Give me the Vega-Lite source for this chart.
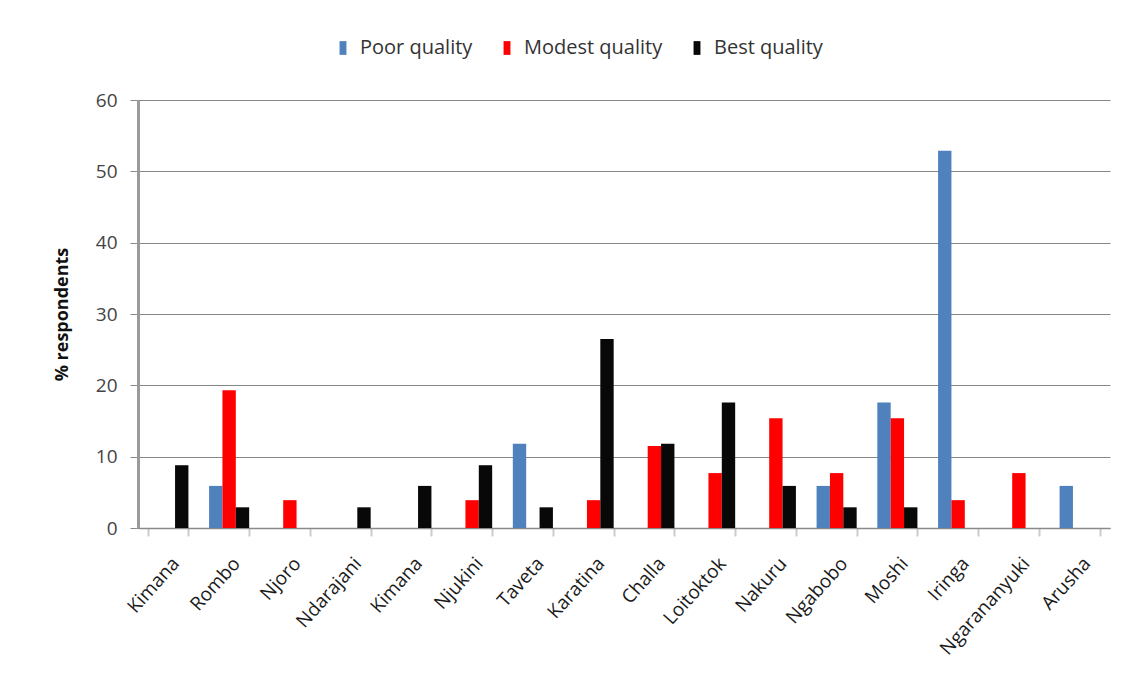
{
  "$schema": "https://vega.github.io/schema/vega-lite/v6.json",
  "width": 972,
  "height": 428,
  "autosize": {"type": "none"},
  "padding": {"left": 138, "top": 100, "right": 28, "bottom": 158},
  "background": "white",
  "config": {
    "view": {"stroke": null},
    "font": "Open Sans"
  },
  "data": {
    "values": [
      {"site": "Kimana", "quality": "Best quality", "pct": 8.8},
      {"site": "Rombo", "quality": "Poor quality", "pct": 5.9},
      {"site": "Rombo", "quality": "Modest quality", "pct": 19.3},
      {"site": "Rombo", "quality": "Best quality", "pct": 2.9},
      {"site": "Njoro", "quality": "Modest quality", "pct": 3.9},
      {"site": "Ndarajani", "quality": "Best quality", "pct": 2.9},
      {"site": "Kimana ", "quality": "Best quality", "pct": 5.9},
      {"site": "Njukini", "quality": "Modest quality", "pct": 3.9},
      {"site": "Njukini", "quality": "Best quality", "pct": 8.8},
      {"site": "Taveta", "quality": "Poor quality", "pct": 11.8},
      {"site": "Taveta", "quality": "Best quality", "pct": 2.9},
      {"site": "Karatina", "quality": "Modest quality", "pct": 3.9},
      {"site": "Karatina", "quality": "Best quality", "pct": 26.5},
      {"site": "Challa", "quality": "Modest quality", "pct": 11.5},
      {"site": "Challa", "quality": "Best quality", "pct": 11.8},
      {"site": "Loitoktok", "quality": "Modest quality", "pct": 7.7},
      {"site": "Loitoktok", "quality": "Best quality", "pct": 17.6},
      {"site": "Nakuru", "quality": "Modest quality", "pct": 15.4},
      {"site": "Nakuru", "quality": "Best quality", "pct": 5.9},
      {"site": "Ngabobo", "quality": "Poor quality", "pct": 5.9},
      {"site": "Ngabobo", "quality": "Modest quality", "pct": 7.7},
      {"site": "Ngabobo", "quality": "Best quality", "pct": 2.9},
      {"site": "Moshi", "quality": "Poor quality", "pct": 17.6},
      {"site": "Moshi", "quality": "Modest quality", "pct": 15.4},
      {"site": "Moshi", "quality": "Best quality", "pct": 2.9},
      {"site": "Iringa", "quality": "Poor quality", "pct": 52.9},
      {"site": "Iringa", "quality": "Modest quality", "pct": 3.9},
      {"site": "Ngarananyuki", "quality": "Modest quality", "pct": 7.7},
      {"site": "Arusha", "quality": "Poor quality", "pct": 5.9}
    ]
  },
  "mark": {"type": "bar"},
  "encoding": {
    "x": {
      "field": "site",
      "type": "nominal",
      "sort": ["Kimana", "Rombo", "Njoro", "Ndarajani", "Kimana ", "Njukini", "Taveta", "Karatina", "Challa", "Loitoktok", "Nakuru", "Ngabobo", "Moshi", "Iringa", "Ngarananyuki", "Arusha"],
      "scale": {"paddingInner": 0.34, "paddingOuter": 0.17},
      "axis": {
        "title": null,
        "labelAngle": -48,
        "labelAlign": "right",
        "labelBaseline": "middle",
        "labelFontSize": 19,
        "labelColor": "#1a1a1a",
        "labelPadding": 24,
        "labelOffset": 7,
        "domainColor": "#8a8a8a",
        "domainWidth": 1.5,
        "tickColor": "#cccccc",
        "tickWidth": 2,
        "tickSize": 8,
        "tickBand": "extent",
        "grid": false
      }
    },
    "xOffset": {
      "field": "quality",
      "type": "nominal",
      "sort": ["Poor quality", "Modest quality", "Best quality"],
      "scale": {"domain": ["Poor quality", "Modest quality", "Best quality"], "paddingInner": 0, "paddingOuter": 0}
    },
    "y": {
      "field": "pct",
      "type": "quantitative",
      "scale": {"domain": [0, 60]},
      "axis": {
        "title": "% respondents",
        "titleFontSize": 18,
        "titleFontWeight": "bold",
        "titleColor": "#111",
        "titlePadding": 24,
        "values": [0, 10, 20, 30, 40, 50, 60],
        "labelFontSize": 19,
        "labelColor": "#444",
        "labelPadding": 13,
        "tickColor": "#8a8a8a",
        "tickSize": 8,
        "domainColor": "#9a9a9a",
        "domainWidth": 3,
        "gridColor": "#868686",
        "gridWidth": 1
      }
    },
    "color": {
      "field": "quality",
      "type": "nominal",
      "scale": {"domain": ["Poor quality", "Modest quality", "Best quality"], "range": ["#4F81BD", "#FF0000", "#080808"]},
      "legend": {
        "title": null,
        "orient": "none",
        "direction": "horizontal",
        "legendX": 195,
        "legendY": -62,
        "symbolType": "M-0.5,-1H0.5V1H-0.5Z",
        "symbolSize": 190,
        "symbolStrokeWidth": 0,
        "labelFontSize": 20,
        "labelColor": "#333",
        "columnPadding": 24,
        "labelOffset": 7
      }
    }
  }
}
